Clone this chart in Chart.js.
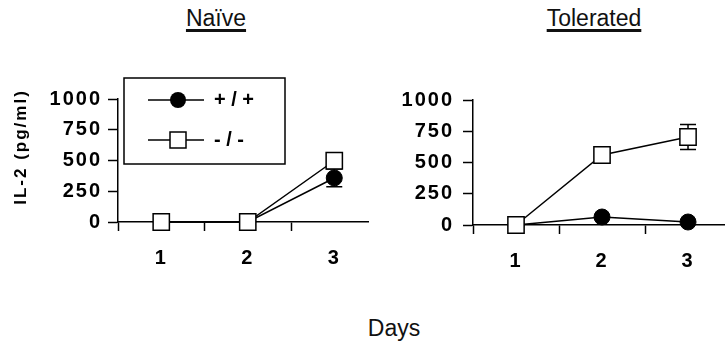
<!DOCTYPE html>
<html>
<head>
<meta charset="utf-8">
<script src="https://cdn.jsdelivr.net/npm/chart.js@4.4.1/dist/chart.umd.min.js"></script>
<style>
  html, body { margin: 0; padding: 0; background: #fff; }
  body { width: 725px; height: 344px; overflow: hidden; position: relative; font-family: "Liberation Sans", Arial, sans-serif; }
  canvas { position: absolute; top: 0; }
  #chartNaive { left: 0; }
  #chartTol { left: 380px; }
  .label { position: absolute; width: 200px; text-align: center; font-size: 23px; line-height: 23px; color: #111; }
  .title { text-decoration: underline; text-decoration-thickness: 2.5px; text-underline-offset: 3px; }
  #yTitle { position: absolute; left: -44px; top: 137px; width: 130px; height: 20px; line-height: 20px;
            text-align: center; font-size: 17px; font-weight: bold; letter-spacing: 2px; color: #000;
            transform: rotate(-90deg); transform-origin: 50% 50%; white-space: nowrap; }
</style>
</head>
<body>
<div class="label title" style="left:116px; top:7px;">Naïve</div>
<div class="label title" style="left:494px; top:7px;">Tolerated</div>
<canvas id="chartNaive" width="380" height="300"></canvas>
<canvas id="chartTol" width="345" height="300"></canvas>
<div id="yTitle">IL-2 (pg/ml)</div>
<div class="label" style="left:294px; top:317px;">Days</div>
<script>
// datos
const days = [1, 2, 3];
const seriesNames = ['+ / +', '- / -'];
const yTicks = [0, 250, 500, 750, 1000];

const naiveWT = [0, 0, 358];
const naiveWTErr = [0, 0, 72];
const naiveKO = [0, 0, 498];
const naiveKOErr = [0, 0, 0];

const tolWT = [0, 64, 24];
const tolWTErr = [0, 0, 0];
const tolKO = [0, 560, 704];
const tolKOErr = [0, 0, 100];

const FONT = '"Liberation Sans", Arial, sans-serif';
const tickFont = { family: FONT, size: 20, weight: 'bold' };

const pts = vals => days.map((d, i) => ({ x: d, y: vals[i] }));

function wtSet(vals, errs) {
  return {
    label: seriesNames[0], data: pts(vals), errorBars: errs, order: 1,
    borderColor: '#000', borderWidth: 1.5, tension: 0, clip: false,
    pointStyle: 'circle', pointRadius: 8, pointBackgroundColor: '#000',
    pointBorderColor: '#000', pointBorderWidth: 1
  };
}
function koSet(vals, errs) {
  return {
    label: seriesNames[1], data: pts(vals), errorBars: errs, order: 0,
    borderColor: '#000', borderWidth: 1.5, tension: 0, clip: false,
    pointStyle: 'rect', pointRadius: 11.5, pointBackgroundColor: '#fff',
    pointBorderColor: '#000', pointBorderWidth: 1.5
  };
}

// simbolo de leyenda: linea con marcador
function legendSymbol(style) {
  const c = document.createElement('canvas');
  c.width = 56; c.height = 22;
  const g = c.getContext('2d');
  g.strokeStyle = '#000'; g.lineWidth = 1.5;
  g.beginPath(); g.moveTo(0, 11); g.lineTo(56, 11); g.stroke();
  if (style === 'circle') {
    g.fillStyle = '#000';
    g.beginPath(); g.arc(30, 11, 8, 0, Math.PI * 2); g.fill();
  } else {
    g.fillStyle = '#fff';
    g.fillRect(22, 3, 16, 16); g.strokeRect(22, 3, 16, 16);
  }
  return c;
}

// espaciado de letras de los ticks como en la figura
const spacing = {
  id: 'spacing',
  beforeLayout(chart) { chart.ctx.letterSpacing = '2px'; },
  beforeDraw(chart) { chart.ctx.letterSpacing = '2px'; }
};

const errorBars = {
  id: 'errorBars',
  beforeDatasetsDraw(chart) {
    const { ctx, scales: { x, y } } = chart;
    ctx.save();
    ctx.strokeStyle = '#000'; ctx.lineWidth = 1.5;
    chart.data.datasets.forEach(ds => {
      (ds.errorBars || []).forEach((e, i) => {
        if (!e) return;
        const p = ds.data[i];
        const px = x.getPixelForValue(p.x);
        const top = y.getPixelForValue(p.y + e);
        const bot = y.getPixelForValue(p.y - e);
        ctx.beginPath();
        ctx.moveTo(px, top); ctx.lineTo(px, bot);
        ctx.moveTo(px - 8, top); ctx.lineTo(px + 8, top);
        ctx.moveTo(px - 8, bot); ctx.lineTo(px + 8, bot);
        ctx.stroke();
      });
    });
    ctx.restore();
  }
};

// leyenda dentro del grafico con recuadro
const legendPlace = {
  id: 'legendPlace',
  afterLayout(chart) {
    if (!chart.options.plugins.legend.display) return;
    const lg = chart.legend;
    lg.left = 128; lg.top = 70;
    lg.right = lg.left + 170; lg.bottom = lg.top + 200;
    if (!lg._sinEspacio) {
      const orig = lg.draw.bind(lg);
      lg.draw = (area) => {
        chart.ctx.letterSpacing = '0px';
        orig(area);
        chart.ctx.letterSpacing = '2px';
      };
      lg._sinEspacio = true;
    }
  },
  afterDraw(chart) {
    if (!chart.options.plugins.legend.display) return;
    const lg = chart.legend;
    const ctx = chart.ctx;
    ctx.save();
    ctx.strokeStyle = '#000'; ctx.lineWidth = 1.5;
    ctx.strokeRect(lg.left - 4, lg.top + 8, 161, 86);
    ctx.restore();
  }
};

function makeConfig(o) {
  return {
    type: 'line',
    data: { datasets: o.datasets },
    options: {
      responsive: false, animation: false, events: [],
      layout: { autoPadding: false, padding: o.padding },
      plugins: {
        tooltip: { enabled: false },
        legend: {
          display: o.legend,
          position: 'chartArea', align: 'start',
          labels: {
            usePointStyle: true, pointStyleWidth: 56, padding: 20, color: '#000',
            font: { family: FONT, size: 20, weight: 'bold' },
            generateLabels: chart => chart.data.datasets.map((ds, i) => ({
              text: ds.label, pointStyle: legendSymbol(ds.pointStyle),
              datasetIndex: i, fontColor: '#000', lineWidth: 0, hidden: false
            }))
          }
        }
      },
      scales: {
        x: {
          type: 'linear', min: 0.5, max: o.xMax,
          afterBuildTicks: s => {
            const marks = [0.5];
            days.forEach(d => marks.push(d, d + 0.5));
            s.ticks = marks.filter(v => v <= s.max).map(v => ({ value: v }));
          },
          afterFit: s => { s.height = 70; },
          border: { display: true, color: '#000', width: 1.5 },
          grid: {
            drawOnChartArea: false, tickLength: 9, tickWidth: 1.5,
            tickColor: c => Number.isInteger(c.tick.value) ? 'rgba(0,0,0,0)' : '#000'
          },
          ticks: {
            color: '#000', font: tickFont, padding: 15, autoSkip: false, maxRotation: 0,
            callback: v => Number.isInteger(v) ? String(v) : ''
          }
        },
        y: {
          min: 0, max: 1000,
          afterBuildTicks: s => { s.ticks = yTicks.map(v => ({ value: v })); },
          afterFit: s => { s.width = o.yWidth; },
          border: { display: true, color: '#000', width: 1.5 },
          grid: { drawOnChartArea: false, tickLength: 10, tickWidth: 1.5, tickColor: '#000' },
          ticks: { color: '#000', font: tickFont, padding: o.tickPad, callback: v => String(v) }
        }
      }
    },
    plugins: [spacing, errorBars, legendPlace]
  };
}

new Chart(document.getElementById('chartNaive'), makeConfig({
  datasets: [wtSet(naiveWT, naiveWTErr), koSet(naiveKO, naiveKOErr)],
  padding: { left: 0, right: 12, top: 99, bottom: 8 },
  xMax: 3.39, yWidth: 118, tickPad: 6, legend: true
}));

new Chart(document.getElementById('chartTol'), makeConfig({
  datasets: [wtSet(tolWT, tolWTErr), koSet(tolKO, tolKOErr)],
  padding: { left: 0, right: 0, top: 100, bottom: 5 },
  xMax: 3.43, yWidth: 93, tickPad: 9, legend: false
}));
</script>
</body>
</html>
